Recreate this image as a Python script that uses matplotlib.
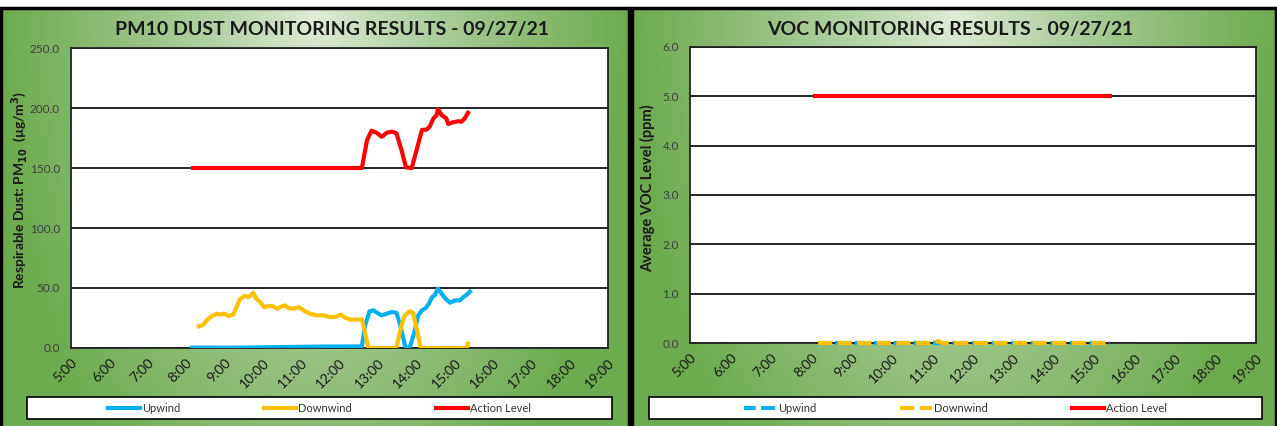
import numpy as np
import matplotlib.pyplot as plt
from matplotlib.patches import Rectangle
from matplotlib.colors import to_rgb

plt.rcParams['font.family'] = ['Lato', 'DejaVu Sans']

# PM10 dust (ug/m3), times
up_t = ["8:09", "9:30", "10:30", "11:30", "12:35", "12:40", "12:47", "12:53", "13:01",
        "13:06", "13:14", "13:22", "13:29", "13:35", "13:40", "13:43", "13:50", "13:57",
        "14:03", "14:09", "14:15", "14:20", "14:25", "14:29", "14:34", "14:41", "14:46",
        "14:53", "15:01", "15:08", "15:14", "15:19", "15:24"]
up_v = [0.3, 0.3, 0.8, 1.2, 1.3, 19, 30.6, 31.4, 28.6,
        27.2, 28.6, 30, 29.4, 19, 7.8, 0.5, 0.5, 13,
        27, 31.4, 33.3, 37, 42.5, 44, 49.4, 44.4, 41,
        37.8, 39.7, 39.7, 42.5, 44.4, 47]

down_t = ["8:20", "8:27", "8:32", "8:40", "8:48", "8:53", "9:00", "9:06", "9:14", "9:19",
          "9:24", "9:31", "9:38", "9:45", "9:50", "9:56", "10:02", "10:09", "10:15", "10:22",
          "10:30", "10:35", "10:40", "10:48", "10:57", "11:06", "11:14", "11:24", "11:35",
          "11:45", "11:53", "12:02", "12:10", "12:17", "12:27", "12:35", "12:40", "12:45",
          "13:29", "13:37", "13:42", "13:50", "13:55", "14:02", "14:07", "15:19", "15:21"]
down_v = [18, 19.4, 23, 26.4, 28.6, 27.8, 28.6, 26.7, 28, 34,
          40.5, 43.3, 42.5, 46, 41, 38.3, 34, 35, 35, 32.8,
          34.7, 35.5, 33.3, 32.8, 33.9, 30.6, 28.6, 27.2, 27.2,
          25.8, 25.8, 27.8, 25, 23.6, 23.6, 24, 13, 0,
          0, 19, 27, 30.6, 29.4, 13, 0, 0, 3.6]

action_t = ["8:11", "12:35", "12:43", "12:50", "12:58", "13:06", "13:14", "13:22", "13:29",
            "13:37", "13:44", "13:53", "14:02", "14:09", "14:16", "14:21", "14:27", "14:32",
            "14:34", "14:40", "14:47", "14:50", "14:57", "15:06", "15:11", "15:16", "15:21"]
action_v = [150, 150, 173, 181, 179.4, 176, 179.4, 180.3, 179,
            165, 150.5, 150, 167.8, 181.7, 182, 184.4, 191.4, 194,
            199, 194, 191.4, 186.7, 188, 189, 188.6, 191.4, 196]

# VOC (ppm)
voc_up_t = ["8:10", "15:23"]
voc_up_v = [0, 0]
voc_down_t = ["8:10", "11:02", "11:08", "11:14", "15:23"]
voc_down_v = [0, 0, 0.04, 0, 0]
voc_act_t = ["8:05", "15:23"]
voc_act_v = [5.0, 5.0]

hour_labels = ["%d:00" % h for h in range(5, 20)]

BLUE = '#00B0F0'
YELLOW = '#FFC000'
RED = '#FF0000'
W, H = 1277, 426


def hrs(ts):
    return [int(t.split(':')[0]) + int(t.split(':')[1]) / 60 for t in ts]


fig = plt.figure(figsize=(W / 100, H / 100), dpi=100)


def panel_bg(x0, x1):
    ax = fig.add_axes([x0 / W, 0, (x1 - x0) / W, 418 / H], zorder=-10)
    ny, nx = 200, 400
    yy, xx = np.mgrid[0:1:ny * 1j, 0:1:nx * 1j]
    t = np.sqrt(((xx - 0.5) / 0.5) ** 2 + (yy / 1.45) ** 2)
    t = np.clip(t, 0, 1) ** 0.8
    light = np.array(to_rgb('#e4eddd'))
    dark = np.array(to_rgb('#6cab50'))
    img = light[None, None, :] * (1 - t[..., None]) + dark[None, None, :] * t[..., None]
    ax.imshow(img, extent=[0, 1, 0, 1], aspect='auto', origin='upper')
    ax.set_axis_off()
    fig.patches.append(Rectangle((x0 / W, -0.01), (x1 - x0) / W, 418 / H + 0.01,
                                 transform=fig.transFigure, fill=False,
                                 edgecolor='black', lw=2.5, zorder=5))


def style_axes(ax, ymax, ystep):
    ax.set_xlim(5, 19)
    ax.set_ylim(0, ymax)
    ax.set_xticks(range(5, 20))
    ax.set_xticklabels(hour_labels, rotation=45, ha='right', rotation_mode='anchor',
                       fontsize=10, color='#1a1a1a')
    yt = np.arange(0, ymax + ystep / 2, ystep)
    ax.set_yticks(yt)
    ax.set_yticklabels(["%.1f" % v for v in yt], fontsize=8.5, color='#404040')
    ax.tick_params(length=0, pad=8)
    ax.tick_params(axis='x', pad=6)
    ax.grid(axis='y', color='black', lw=1.2)
    ax.set_axisbelow(True)
    for s in ax.spines.values():
        s.set_linewidth(1.3)
        s.set_color('#222222')


def legend_box(ax, x0, x1, handles, labels):
    fig.patches.append(Rectangle((x0 / W, 1 - 419 / H), (x1 - x0) / W, 22 / H,
                                 transform=fig.transFigure, facecolor='white',
                                 edgecolor='black', lw=1.2, zorder=3))
    leg = fig.legend(handles, labels, loc='center', ncol=3, frameon=False,
                     bbox_to_anchor=((x0 + x1) / 2 / W, 1 - 408 / H),
                     fontsize=8, handlelength=2.9, handletextpad=0.2,
                     columnspacing=7.5)
    leg.set_zorder(4)
    for t in leg.get_texts():
        t.set_color('#333333')


# ---- left: PM10
panel_bg(1, 629)
ax1 = fig.add_axes([71 / W, 1 - 348 / H, (608 - 71) / W, 300 / H])
style_axes(ax1, 250, 50)
l1, = ax1.plot(hrs(up_t), up_v, color=BLUE, lw=3, zorder=3)
l2, = ax1.plot(hrs(down_t), down_v, color=YELLOW, lw=3, zorder=3)
l3, = ax1.plot(hrs(action_t), action_v, color=RED, lw=3, zorder=3)
fig.text(332 / W, 1 - 30 / H, "PM10 DUST MONITORING RESULTS - 09/27/21",
         ha='center', va='center', fontsize=14, fontweight='bold', color='#1a1a1a')
fig.text(20 / W, 1 - 190 / H, r"Respirable Dust: PM$_{\mathbf{10}}$  (µg/m$^{\mathbf{3}}$)",
         rotation=90, ha='center', va='center', fontsize=10, fontweight='bold',
         color='#1a1a1a')
legend_box(ax1, 27, 612, [l1, l2, l3], ["Upwind", "Downwind", "Action Level"])

# ---- right: VOC
panel_bg(632, 1276)
ax2 = fig.add_axes([690 / W, 1 - 343 / H, (1256 - 690) / W, 296 / H])
style_axes(ax2, 6, 1)
m1, = ax2.plot(hrs(voc_up_t), voc_up_v, color=BLUE, lw=3, ls=(0.6, (3.4, 1.3)),
               zorder=3, clip_on=False)
m2, = ax2.plot(hrs(voc_down_t), voc_down_v, color=YELLOW, lw=3, ls=(0, (3.4, 1.3)),
               zorder=3, clip_on=False)
m3, = ax2.plot(hrs(voc_act_t), voc_act_v, color=RED, lw=3, zorder=3)
fig.text(950 / W, 1 - 30 / H, "VOC MONITORING RESULTS - 09/27/21",
         ha='center', va='center', fontsize=14, fontweight='bold', color='#1a1a1a')
fig.text(648 / W, 1 - 188 / H, "Average VOC Level (ppm)",
         rotation=90, ha='center', va='center', fontsize=10.5, fontweight='bold',
         color='#1a1a1a')
legend_box(ax2, 649, 1262, [m1, m2, m3], ["Upwind", "Downwind", "Action Level"])

fig.savefig('out.png', dpi=100)
